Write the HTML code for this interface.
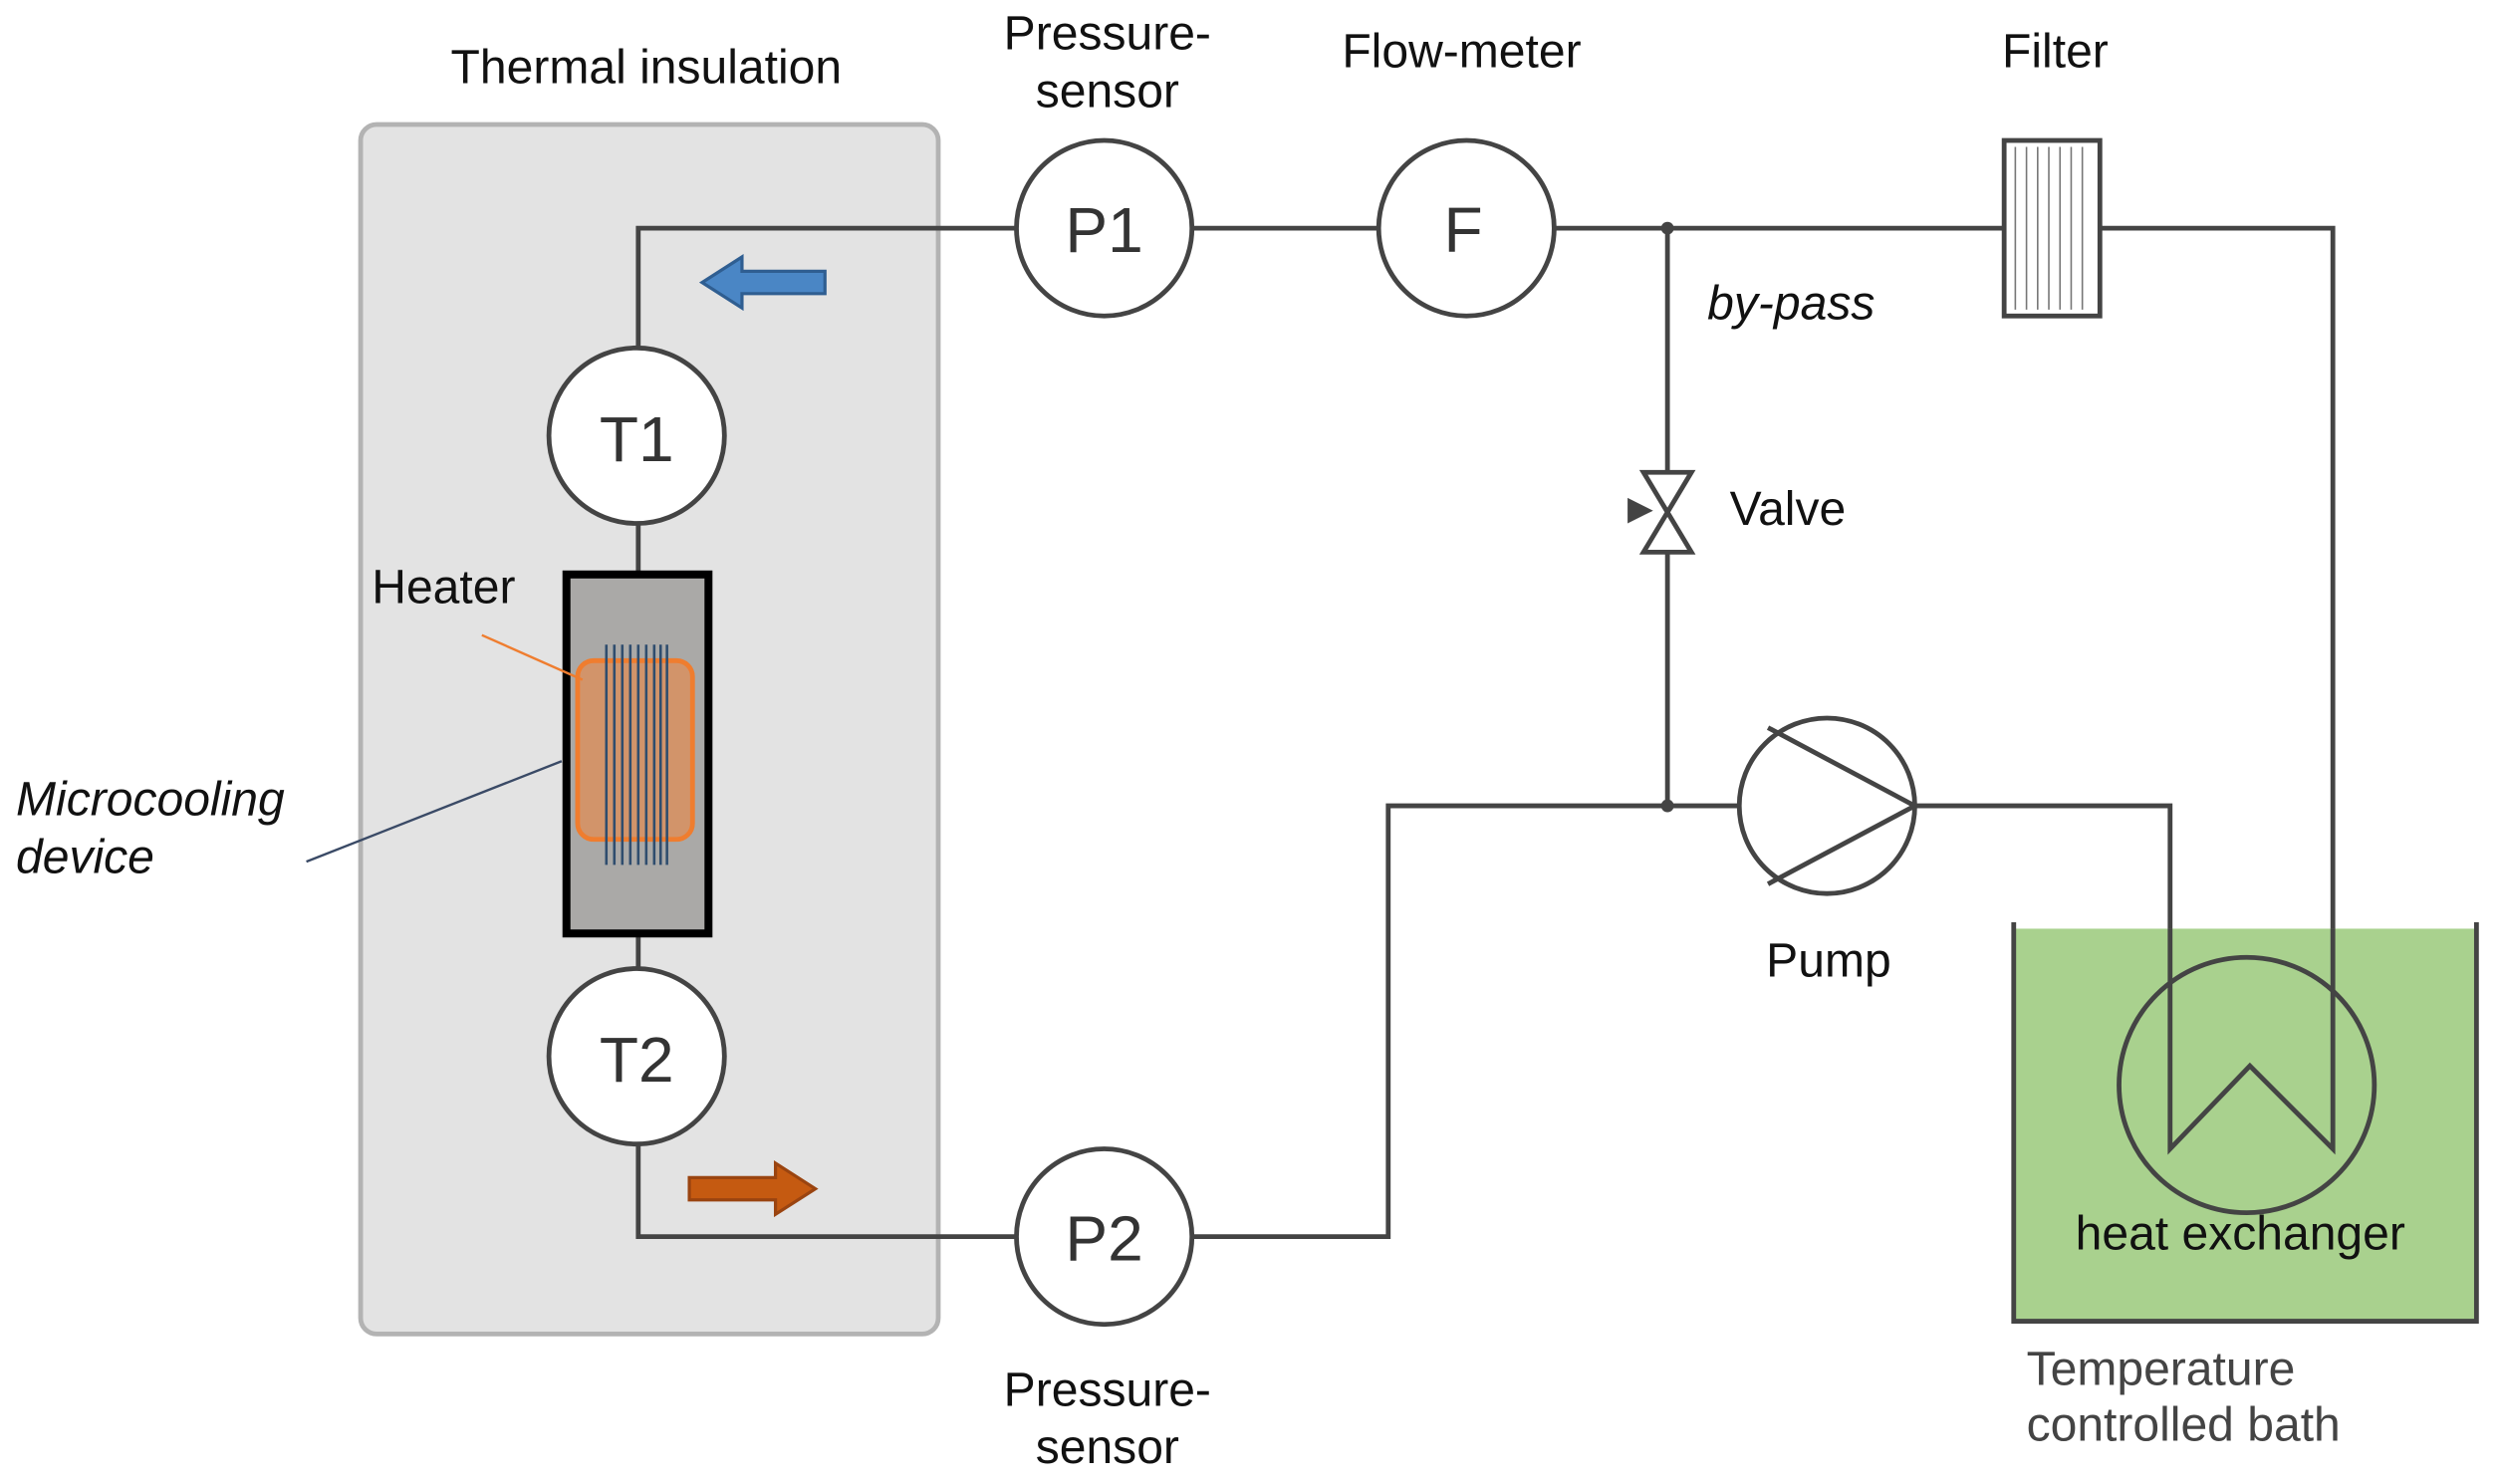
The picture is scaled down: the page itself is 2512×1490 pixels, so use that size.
<!DOCTYPE html>
<html><head><style>html,body{margin:0;padding:0;background:#fff}svg{display:block}</style></head>
<body>
<svg width="2512" height="1490" viewBox="0 0 1568 930" xmlns="http://www.w3.org/2000/svg" font-family="Liberation Sans, sans-serif">
<rect width="1568" height="930" fill="#fff"/>
<rect x="226" y="78" width="362" height="758" rx="10" fill="#e3e3e3" stroke="#b3b3b3" stroke-width="3"/>
<text x="405" y="52" font-size="30" text-anchor="middle" fill="#111">Thermal insulation</text>
<g fill="none" stroke="#444" stroke-width="3">
<polyline points="400,218 400,143 637,143"/>
<line x1="747" y1="143" x2="864" y2="143"/>
<line x1="974" y1="143" x2="1256" y2="143"/>
<polyline points="1316,143 1462,143 1462,720 1410,668 1360,720 1360,505 1200,505"/>
<line x1="1045" y1="143" x2="1045" y2="296"/>
<line x1="1045" y1="346" x2="1045" y2="505"/>
<polyline points="1090,505 870,505 870,775 747,775"/>
<polyline points="637,775 400,775 400,717"/>
<line x1="400" y1="328" x2="400" y2="358"/>
<line x1="400" y1="587" x2="400" y2="607"/>
</g>
<circle cx="1045" cy="143" r="4" fill="#444"/>
<circle cx="1045" cy="505" r="4" fill="#444"/>
<rect x="1262" y="582" width="290" height="246" fill="#a9d18e"/>
<polyline points="1262,578 1262,828 1552,828 1552,578" fill="none" stroke="#444" stroke-width="3"/>
<polyline points="1462,582 1462,720 1410,668 1360,720 1360,582" fill="none" stroke="#444" stroke-width="3"/>
<circle cx="1408" cy="680" r="80" fill="none" stroke="#444" stroke-width="3"/>
<text x="1404" y="783" font-size="30" text-anchor="middle" fill="#111">heat exchanger</text>
<text x="1270" y="868" font-size="30" fill="#444">Temperature</text>
<text x="1270" y="903" font-size="30" fill="#444">controlled bath</text>
<g fill="#fff" stroke="#444" stroke-width="3">
<circle cx="692" cy="143" r="55"/><circle cx="919" cy="143" r="55"/>
<circle cx="399" cy="273" r="55"/><circle cx="399" cy="662" r="55"/>
<circle cx="692" cy="775" r="55"/><circle cx="1145" cy="505" r="55"/>
</g>
<g font-size="40" text-anchor="middle" fill="#333">
<text x="692" y="158">P1</text><text x="917" y="158">F</text>
<text x="399" y="289">T1</text><text x="399" y="678">T2</text>
<text x="692" y="790">P2</text>
</g>
<polyline points="1108,456 1200,505 1108,554" fill="none" stroke="#444" stroke-width="3"/>
<rect x="1256" y="88" width="60" height="110" fill="#fff" stroke="#444" stroke-width="3"/>
<g stroke="#777" stroke-width="1">
<line x1="1263" y1="92" x2="1263" y2="194"/><line x1="1270" y1="92" x2="1270" y2="194"/><line x1="1277" y1="92" x2="1277" y2="194"/><line x1="1284" y1="92" x2="1284" y2="194"/><line x1="1291" y1="92" x2="1291" y2="194"/><line x1="1298" y1="92" x2="1298" y2="194"/><line x1="1305" y1="92" x2="1305" y2="194"/>
</g>
<polygon points="1030,296 1060,296 1030,346 1060,346" fill="#fff" stroke="#444" stroke-width="3"/>
<polygon points="1020,312 1036,320 1020,328" fill="#444"/>
<rect x="355" y="360" width="89" height="225" fill="#aaa9a7" stroke="#000" stroke-width="5"/>
<rect x="362" y="414" width="72" height="112" rx="10" fill="#d2946a" stroke="#ef7d2f" stroke-width="3"/>
<g stroke="#2f4d6e" stroke-width="1.6">
<line x1="380" y1="404" x2="380" y2="542"/><line x1="385" y1="404" x2="385" y2="542"/><line x1="390" y1="404" x2="390" y2="542"/><line x1="395" y1="404" x2="395" y2="542"/><line x1="400" y1="404" x2="400" y2="542"/><line x1="405" y1="404" x2="405" y2="542"/><line x1="410" y1="404" x2="410" y2="542"/><line x1="414" y1="404" x2="414" y2="542"/><line x1="418" y1="404" x2="418" y2="542"/>
</g>
<line x1="302" y1="398" x2="365" y2="426" stroke="#ef7d2f" stroke-width="1.5"/>
<line x1="192" y1="540" x2="352" y2="477" stroke="#3a4a66" stroke-width="1.5"/>
<polygon points="517,170 465,170 465,161 440,177 465,193 465,184 517,184" fill="#4a86c5" stroke="#2f5e91" stroke-width="2"/>
<polygon points="432,738 486,738 486,729 511,745 486,761 486,752 432,752" fill="#c55a11" stroke="#9a4410" stroke-width="2"/>
<g font-size="30" fill="#111">
<text x="694" y="31" text-anchor="middle">Pressure-</text>
<text x="694" y="67" text-anchor="middle">sensor</text>
<text x="916" y="42" text-anchor="middle">Flow-meter</text>
<text x="1288" y="42" text-anchor="middle">Filter</text>
<text x="1070" y="200" font-style="italic">by-pass</text>
<text x="1084" y="329">Valve</text>
<text x="1146" y="612" text-anchor="middle">Pump</text>
<text x="694" y="881" text-anchor="middle">Pressure-</text>
<text x="694" y="917" text-anchor="middle">sensor</text>
<text x="233" y="378">Heater</text>
<text x="10" y="511" font-style="italic">Microcooling</text>
<text x="10" y="547" font-style="italic">device</text>
</g>
</svg>
</body></html>
